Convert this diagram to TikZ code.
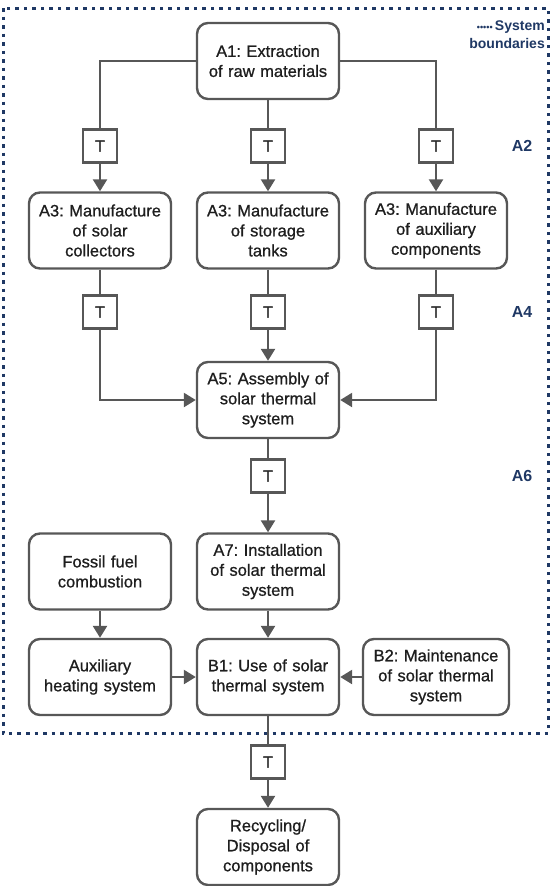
\documentclass[tikz,border=0pt]{standalone}
\usepackage{fontspec}
\setmainfont{Liberation Sans}
\newfontfamily\boxfont{Liberation Sans}[FakeBold=0.8]
\usetikzlibrary{arrows.meta}
\definecolor{linegray}{HTML}{575757}
\definecolor{navy}{HTML}{1F3864}
\definecolor{txt}{HTML}{1E1E1E}
\begin{document}
\frenchspacing
\begin{tikzpicture}[x=1pt,y=-1pt,
 box/.style={draw=linegray, line width=2.4pt, rounded corners=11pt, fill=white, minimum width=142pt, minimum height=76pt, align=center, text=txt, font=\boxfont\fontsize{16.5}{20}\selectfont, inner sep=2pt, text width=138pt},
 tbox/.style={draw=linegray, line width=2.2pt, fill=white, minimum width=34pt, minimum height=33pt, inner sep=0pt, font=\boxfont\fontsize{16}{19}\selectfont, text=txt},
 conn/.style={draw=linegray, line width=2.4pt},
 arr/.style={conn, -{Triangle[width=14pt,length=12pt]}},
 lab/.style={text=navy, font=\bfseries\fontsize{16}{19}\selectfont},
 sblab/.style={text=navy, font=\bfseries\fontsize{14}{17.5}\selectfont, align=right, inner sep=0pt}
]
\useasboundingbox (0,0) rectangle (550,886);
% system boundary
\draw[navy, line width=3pt, dash pattern=on 3.5pt off 5pt] (3,8) rectangle (548,733);
\node[sblab, anchor=north east] (sb) at (545,21) {{\fontsize{9}{9}\selectfont •••••}\,System\\boundaries};

% nodes
\node[box] (a1) at (268,61) {A1: Extraction\\of raw materials};
\node[tbox] (t11) at (100,146) {T};
\node[tbox] (t12) at (268,146) {T};
\node[tbox] (t13) at (436,146) {T};
\node[box] (a3l) at (100,230.5) {A3: Manufacture\\of solar\\collectors};
\node[box] (a3m) at (268,230.5) {A3: Manufacture\\of storage\\tanks};
\node[box] (a3r) at (436,230.5) {A3: Manufacture\\of auxiliary\\components};
\node[tbox] (t21) at (100,312) {T};
\node[tbox] (t22) at (268,312) {T};
\node[tbox] (t23) at (436,312) {T};
\node[box] (a5) at (268,400) {A5: Assembly of\\solar thermal\\system};
\node[tbox] (t3) at (268,476) {T};
\node[box] (fos) at (100,571.5) {Fossil fuel\\combustion};
\node[box] (a7) at (268,571.5) {A7: Installation\\of solar thermal\\system};
\node[box] (aux) at (100,677) {Auxiliary\\heating system};
\node[box] (b1) at (268,677) {B1: Use of solar\\thermal system};
\node[box, minimum width=146pt, text width=142pt] (b2) at (436,677) {B2: Maintenance\\of solar thermal\\system};
\node[tbox] (t4) at (268,762) {T};
\node[box] (rec) at (268,847) {Recycling/\\Disposal of\\components};

% labels
\node[lab] (la2) at (522,146) {A2};
\node[lab] (la4) at (522,312) {A4};
\node[lab] (la6) at (522,476) {A6};

% connectors
\draw[conn] (a1.west) -| (t11.north);
\draw[conn] (a1.east) -| (t13.north);
\draw[conn] (a1.south) -- (t12.north);
\draw[arr] (t11.south) -- (a3l.north);
\draw[arr] (t12.south) -- (a3m.north);
\draw[arr] (t13.south) -- (a3r.north);
\draw[conn] (a3l.south) -- (t21.north);
\draw[conn] (a3m.south) -- (t22.north);
\draw[conn] (a3r.south) -- (t23.north);
\draw[arr] (t21.south) |- (a5.west);
\draw[arr] (t23.south) |- (a5.east);
\draw[arr] (t22.south) -- (a5.north);
\draw[conn] (a5.south) -- (t3.north);
\draw[arr] (t3.south) -- (a7.north);
\draw[arr] (fos.south) -- (aux.north);
\draw[arr] (a7.south) -- (b1.north);
\draw[arr] (aux.east) -- (b1.west);
\draw[arr] (b2.west) -- (b1.east);
\draw[conn] (b1.south) -- (t4.north);
\draw[arr] (t4.south) -- (rec.north);
\end{tikzpicture}
\end{document}
